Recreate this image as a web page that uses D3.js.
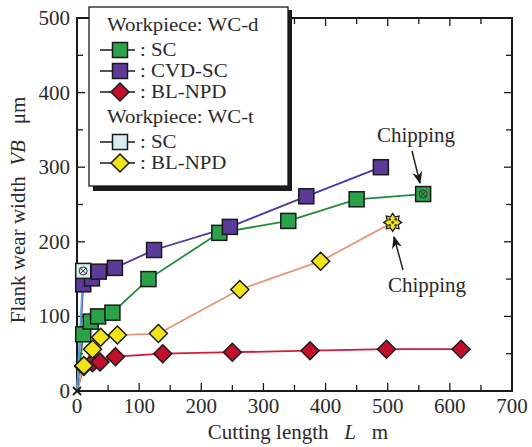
<!DOCTYPE html>
<html>
<head>
<meta charset="utf-8">
<script src="https://cdn.jsdelivr.net/npm/d3@7"></script>
<style>
  body { margin: 0; background: #fff; }
  svg { font-family: "Liberation Serif", "DejaVu Serif", serif; }
</style>
</head>
<body>
<div id="chart"></div>
<script>
// cutting length L (m) and flank wear VB (um)
const scDLen = [0, 10, 22, 34, 57, 115, 229, 340, 450, 557];
const scDWear = [0, 76, 93, 100, 105, 150, 212, 228, 257, 264];
const cvdLen = [0, 10, 24, 35, 61, 124, 246, 369, 489];
const cvdWear = [0, 143, 151, 160, 165, 189, 220, 261, 300];
const npdDLen = [0, 11, 25, 37, 62, 138, 250, 375, 498, 618];
const npdDWear = [0, 33, 38, 39, 46, 50, 52, 54, 56, 56];
const scTLen = [0, 10];
const scTWear = [0, 161];
const npdTLen = [0, 11, 25, 38, 65, 131, 262, 392, 508];
const npdTWear = [0, 34, 56, 72, 75, 77, 136, 174, 226];

const xTicks = [0, 100, 200, 300, 400, 500, 600, 700];
const yTicks = [0, 100, 200, 300, 400, 500];

const width = 532, height = 447;
const margin = {left: 77, right: 20, top: 18, bottom: 56};
const fs = 21;

const svg = d3.select("#chart").append("svg")
    .attr("width", width)
    .attr("height", height);

const x = d3.scaleLinear().domain([0, 700]).range([margin.left, width - margin.right]);
const y = d3.scaleLinear().domain([0, 500]).range([height - margin.bottom, margin.top]);

const ink = "#1a1a1a";
const textCol = "#2a2a2a";

// frame + inward ticks
svg.append("rect")
    .attr("x", x(0)).attr("y", y(500))
    .attr("width", x(700) - x(0)).attr("height", y(0) - y(500))
    .attr("fill", "none").attr("stroke", ink).attr("stroke-width", 2);

const xMinor = d3.range(50, 700, 50);
const yMinor = d3.range(50, 500, 50);
xMinor.forEach(v => {
    const len = v % 100 === 0 ? 8 : 6;
    svg.append("line").attr("x1", x(v)).attr("x2", x(v))
        .attr("y1", y(0)).attr("y2", y(0) - len)
        .attr("stroke", ink).attr("stroke-width", 1.3);
    svg.append("line").attr("x1", x(v)).attr("x2", x(v))
        .attr("y1", y(500)).attr("y2", y(500) + len)
        .attr("stroke", ink).attr("stroke-width", 1.3);
});
yMinor.forEach(v => {
    const len = v % 100 === 0 ? 8 : 6;
    svg.append("line").attr("y1", y(v)).attr("y2", y(v))
        .attr("x1", x(0)).attr("x2", x(0) + len)
        .attr("stroke", ink).attr("stroke-width", 1.3);
    svg.append("line").attr("y1", y(v)).attr("y2", y(v))
        .attr("x1", x(700)).attr("x2", x(700) - len)
        .attr("stroke", ink).attr("stroke-width", 1.3);
});

// tick labels
svg.selectAll(".xt").data(xTicks).join("text")
    .attr("x", d => x(d)).attr("y", y(0) + 22)
    .attr("text-anchor", "middle").attr("font-size", fs).attr("fill", textCol)
    .text(d => d);
svg.selectAll(".yt").data(yTicks).join("text")
    .attr("x", x(0) - 7).attr("y", d => y(d) + 7)
    .attr("text-anchor", "end").attr("font-size", fs).attr("fill", textCol)
    .text(d => d);

// axis titles
const xl = svg.append("text")
    .attr("x", 298).attr("y", 439)
    .attr("text-anchor", "middle").attr("font-size", fs).attr("fill", textCol)
    .attr("xml:space", "preserve");
xl.append("tspan").text("Cutting length   ");
xl.append("tspan").attr("font-style", "italic").text("L");
xl.append("tspan").text("   m");

const yl = svg.append("text")
    .attr("transform", "translate(25,210) rotate(-90)")
    .attr("text-anchor", "middle").attr("font-size", fs).attr("fill", textCol)
    .attr("xml:space", "preserve");
yl.append("tspan").text("Flank wear width  ");
yl.append("tspan").attr("font-style", "italic").text("VB");
yl.append("tspan").text("   \u03bcm");

const line = d3.line().x(d => x(d[0])).y(d => y(d[1]));
const zip = (a, b) => a.map((v, i) => [v, b[i]]);

const series = [
    {len: npdDLen, wear: npdDWear, stroke: "#d41a3a", fill: "#c2102c", shape: "diamond"},
    {len: npdTLen, wear: npdTWear, stroke: "#e8967a", fill: "#f2e41a", shape: "diamond", chip: true},
    {len: scDLen, wear: scDWear, stroke: "#1e8c3a", fill: "#2aa24a", shape: "square", chip: true},
    {len: cvdLen, wear: cvdWear, stroke: "#4b35a8", fill: "#5b3a9a", shape: "square"},
    {len: scTLen, wear: scTWear, stroke: "#5aa6d8", fill: "#d8ecf2", shape: "square", chip: true}
];

function marker(g, shape, fill, cx, cy) {
    if (shape === "square") {
        g.append("rect").attr("x", cx - 7.5).attr("y", cy - 7.5)
            .attr("width", 15).attr("height", 15)
            .attr("fill", fill).attr("stroke", ink).attr("stroke-width", 1.5);
    } else {
        g.append("path")
            .attr("d", `M${cx},${cy - 9}L${cx + 9},${cy}L${cx},${cy + 9}L${cx - 9},${cy}Z`)
            .attr("fill", fill).attr("stroke", ink).attr("stroke-width", 1.5);
    }
}

function chipMarker(g, shape, fill, cx, cy) {
    if (shape === "square") {
        g.append("rect").attr("x", cx - 7.5).attr("y", cy - 7.5)
            .attr("width", 15).attr("height", 15)
            .attr("fill", fill).attr("stroke", ink).attr("stroke-width", 1.5);
        g.append("circle").attr("cx", cx).attr("cy", cy).attr("r", 4)
            .attr("fill", "none").attr("stroke", "#333").attr("stroke-width", 1);
        g.append("path")
            .attr("d", `M${cx - 3},${cy - 3}L${cx + 3},${cy + 3}M${cx + 3},${cy - 3}L${cx - 3},${cy + 3}`)
            .attr("stroke", "#333").attr("stroke-width", 1);
    } else {
        const pts = d3.range(16).map(i => {
            const a = i * Math.PI / 8, r = i % 2 ? 6 : 9;
            return [cx + r * Math.cos(a), cy + r * Math.sin(a)];
        });
        g.append("path").attr("d", "M" + pts.join("L") + "Z")
            .attr("fill", fill).attr("stroke", ink).attr("stroke-width", 1.3);
        [[-3, -3], [3, -3], [-3, 3], [3, 3], [0, 0]].forEach(o => {
            g.append("circle").attr("cx", cx + o[0]).attr("cy", cy + o[1]).attr("r", 1.4)
                .attr("fill", "#444");
        });
    }
}

series.forEach(s => {
    const pts = zip(s.len, s.wear);
    svg.append("path").datum(pts)
        .attr("d", line).attr("fill", "none")
        .attr("stroke", s.stroke).attr("stroke-width", 1.8);
});
series.forEach(s => {
    const g = svg.append("g");
    const pts = zip(s.len, s.wear).slice(1);
    pts.forEach((p, i) => {
        const last = i === pts.length - 1;
        if (s.chip && last) chipMarker(g, s.shape, s.fill, x(p[0]), y(p[1]));
        else marker(g, s.shape, s.fill, x(p[0]), y(p[1]));
    });
});

// origin cross
svg.append("path")
    .attr("d", `M${x(0) - 4},${y(0) - 4}L${x(0) + 4},${y(0) + 4}M${x(0) + 4},${y(0) - 4}L${x(0) - 4},${y(0) + 4}`)
    .attr("stroke", ink).attr("stroke-width", 1.8);

// chipping annotations
svg.append("defs").append("marker")
    .attr("id", "arr").attr("viewBox", "0 0 10 10")
    .attr("refX", 9).attr("refY", 5)
    .attr("markerWidth", 9).attr("markerHeight", 9)
    .attr("orient", "auto")
    .append("path").attr("d", "M0,1L10,5L0,9L3,5Z").attr("fill", ink);

svg.append("text").attr("x", 416).attr("y", 142)
    .attr("text-anchor", "middle").attr("font-size", fs).attr("fill", textCol)
    .text("Chipping");
svg.append("line").attr("x1", 412).attr("y1", 151).attr("x2", 420).attr("y2", 183)
    .attr("stroke", ink).attr("stroke-width", 1.4).attr("marker-end", "url(#arr)");

svg.append("text").attr("x", 427).attr("y", 292)
    .attr("text-anchor", "middle").attr("font-size", fs).attr("fill", textCol)
    .text("Chipping");
svg.append("line").attr("x1", 403).attr("y1", 270).attr("x2", 394).attr("y2", 237)
    .attr("stroke", ink).attr("stroke-width", 1.4).attr("marker-end", "url(#arr)");

// legend (text slightly widened so it stays compact vertically)
const legendGroups = [
    {title: "Workpiece: WC-d", items: [
        {label: ": SC", s: series[2]},
        {label: ": CVD-SC", s: series[3]},
        {label: ": BL-NPD", s: series[0]}
    ]},
    {title: "Workpiece: WC-t", items: [
        {label: ": SC", s: series[4]},
        {label: ": BL-NPD", s: series[1]}
    ]}
];

const lg = svg.append("g");
lg.append("rect").attr("x", 93).attr("y", 10).attr("width", 199).attr("height", 181)
    .attr("fill", ink);
lg.append("rect").attr("x", 89).attr("y", 7).attr("width", 199).attr("height", 179)
    .attr("fill", "#fff").attr("stroke", ink).attr("stroke-width", 1.3);

const lfs = 18;
const stretch = 1.16;
function legendText(tx, ty, str) {
    lg.append("text")
        .attr("transform", `translate(${tx},${ty}) scale(${stretch},1)`)
        .attr("font-size", lfs).attr("fill", textCol).text(str);
}

let ly = 25;
legendGroups.forEach(grp => {
    legendText(107, ly + 6, grp.title);
    ly += 25;
    grp.items.forEach(it => {
        lg.append("line").attr("x1", 100).attr("x2", 135).attr("y1", ly).attr("y2", ly)
            .attr("stroke", ink).attr("stroke-width", 1.5);
        marker(lg, it.s.shape, it.s.fill, 120, ly);
        legendText(140, ly + 6, it.label);
        ly += 21;
    });
    ly += 4;
});
</script>
</body>
</html>
